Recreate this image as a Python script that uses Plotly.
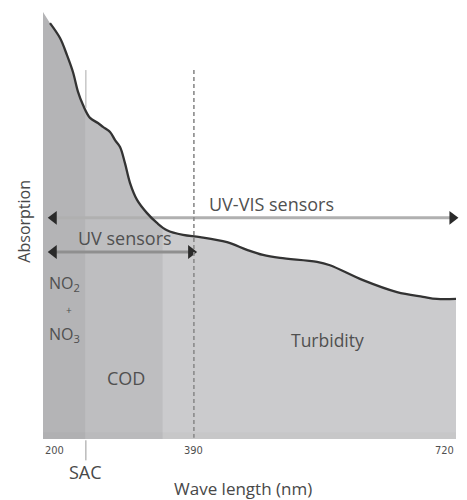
import plotly.graph_objects as go

# Absorption spectrum (arbitrary units, 0-100) against wavelength in nm
wavelength = [208.8, 221.4, 230.2, 237.8, 244.1, 250.4, 259.2, 269.2, 275.5, 284.4,
              290.7, 297.0, 303.2, 309.5, 318.4, 331.0, 343.5, 356.1, 376.3, 397.7,
              431.7, 456.8, 477.0, 498.4, 545.0, 561.3, 602.9, 645.7, 678.4, 696.0, 720.0]
absorption = [97.4, 93.9, 89.9, 85.9, 81.3, 78.2, 75.2, 74.0, 73.1, 71.9,
              70.0, 68.4, 64.6, 60.0, 56.0, 52.9, 50.6, 48.9, 47.8, 47.3,
              46.1, 44.3, 43.1, 42.4, 41.5, 40.7, 37.2, 34.4, 33.3, 32.8, 32.8]

# Wavelength bands: (start, end, colour)
band_edges = [200, 254, 351, 720]
band_colors = ["#b4b4b6", "#bebec0", "#cbcbcd"]

x_min, x_max = 200, 720
y_top = 100

tick_vals = [200, 390, 720]
tick_text = ["200", "390", "720"]
sac_nm = 254
uv_limit_nm = 390

font = "Open Sans"
text_col = "#505050"

fig = go.Figure()

# Mask above the spectrum so only the area under the curve stays grey
fig.add_trace(go.Scatter(x=[x_min, x_max], y=[y_top + 1, y_top + 1], mode="lines",
                         line=dict(width=0, color="white"), hoverinfo="skip",
                         showlegend=False))
fig.add_trace(go.Scatter(x=[x_min] + wavelength, y=[y_top] + absorption, mode="lines",
                         line=dict(width=0, color="white", shape="spline", smoothing=1.0),
                         fill="tonexty", fillcolor="white", hoverinfo="skip",
                         showlegend=False))

# Sensor range arrows (shafts)
uvvis_y, uv_y = 51.8, 43.8
arrow_start = 213.5
arrow_end_vis = 715.5
arrow_end_uv = 386.5
fig.add_trace(go.Scatter(x=[arrow_start, arrow_end_vis], y=[uvvis_y, uvvis_y], mode="lines",
                         line=dict(color="#b0b0b0", width=3),
                         hoverinfo="skip", showlegend=False))
fig.add_trace(go.Scatter(x=[arrow_start, arrow_end_uv], y=[uv_y, uv_y], mode="lines",
                         line=dict(color="#8f8f8f", width=3),
                         hoverinfo="skip", showlegend=False))

# Spectrum line
fig.add_trace(go.Scatter(x=wavelength, y=absorption, mode="lines",
                         line=dict(width=2.3, color="#333333", shape="spline", smoothing=1.0),
                         hoverinfo="skip", showlegend=False))

# Arrow heads
fig.add_trace(go.Scatter(
    x=[arrow_start, arrow_end_vis, arrow_start, arrow_end_uv],
    y=[uvvis_y, uvvis_y, uv_y, uv_y], mode="markers",
    marker=dict(symbol=["triangle-left", "triangle-right", "triangle-left", "triangle-right"],
                size=12, color="#2a2a2a", line=dict(width=0)),
    cliponaxis=False, hoverinfo="skip", showlegend=False))

shapes = []
for i, col in enumerate(band_colors):
    shapes.append(dict(type="rect", xref="x", yref="y", layer="below",
                       x0=band_edges[i], x1=band_edges[i + 1], y0=0, y1=y_top,
                       fillcolor=col, line=dict(width=0)))
# Slightly darker strip along the baseline
shapes.append(dict(type="rect", xref="x", yref="y", layer="below",
                   x0=x_min, x1=x_max, y0=0, y1=1.6,
                   fillcolor="rgba(0,0,0,0.02)", line=dict(width=0)))
# UV / VIS boundary
shapes.append(dict(type="line", xref="x", yref="y", x0=uv_limit_nm, x1=uv_limit_nm,
                   y0=86.4, y1=0.3, line=dict(color="#8a8a8a", width=1.6, dash="4px,3px")))
# SAC wavelength marker
shapes.append(dict(type="line", xref="x", yref="y", x0=sac_nm, x1=sac_nm,
                   y0=86.4, y1=77.5, line=dict(color="#aaaaaa", width=1)))
shapes.append(dict(type="line", xref="x", yref="paper", x0=sac_nm, x1=sac_nm,
                   y0=-0.003, y1=-0.05, line=dict(color="#999999", width=1)))
fig.update_layout(shapes=shapes)

annotations = []


def label(x, y, text, size=18, **kw):
    annotations.append(dict(x=x, y=y, xref="x", yref="y", text=text, showarrow=False,
                            xanchor="center", yanchor="middle",
                            font=dict(family=font, size=size, color=text_col), **kw))


label(488, 55.0, "UV-VIS sensors", size=18)
label(303, 47.0, "UV sensors", size=18)
label(227.5, 36.5, "NO<sub>2</sub>", size=16)
label(233, 30.2, "+", size=10)
label(227.5, 24.4, "NO<sub>3</sub>", size=16)
label(304.5, 14.3, "COD", size=18)
label(557.6, 23.2, "Turbidity", size=17.5)

# Wavelength tick labels
anchors = ["left", "center", "right"]
for v, t, a in zip(tick_vals, tick_text, anchors):
    annotations.append(dict(x=v, y=-0.028, xref="x", yref="paper", text=t, showarrow=False,
                            xanchor=a, yanchor="middle",
                            font=dict(family="DejaVu Sans Condensed", size=11, color="#505050")))
annotations.append(dict(x=sac_nm, y=-0.078, xref="x", yref="paper", text="SAC",
                        showarrow=False, xanchor="center", yanchor="middle",
                        font=dict(family=font, size=18, color="#484848")))
annotations.append(dict(x=0.485, y=-0.115, xref="paper", yref="paper", text="Wave length (nm)",
                        showarrow=False, xanchor="center", yanchor="middle",
                        font=dict(family=font, size=17, color="#484848")))
annotations.append(dict(x=-0.045, y=0.51, xref="paper", yref="paper", text="Absorption",
                        showarrow=False, textangle=-90, xanchor="center", yanchor="middle",
                        font=dict(family=font, size=16, color="#484848")))

fig.update_layout(
    annotations=annotations,
    width=467, height=500,
    margin=dict(l=43, r=11, t=12, b=61),
    paper_bgcolor="white", plot_bgcolor="white",
    xaxis=dict(range=[x_min, x_max], showgrid=False, zeroline=False, showline=False,
               showticklabels=False, ticks=""),
    yaxis=dict(range=[0, y_top], showgrid=False, zeroline=False, showline=False,
               showticklabels=False, ticks=""),
)

fig.write_html("out.html")
